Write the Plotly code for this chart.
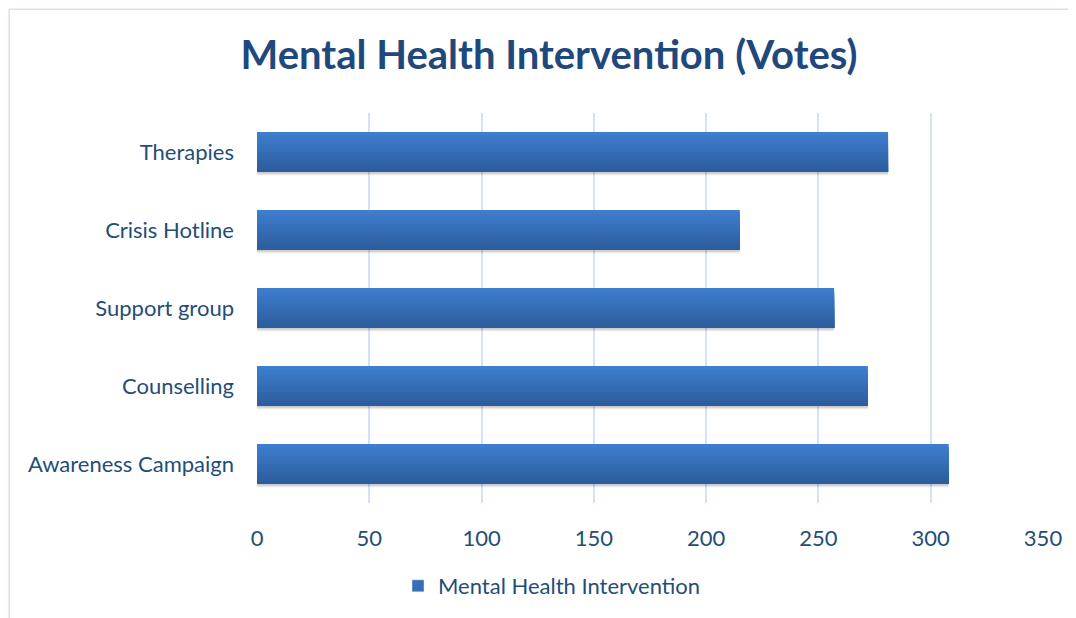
import plotly.graph_objects as go

categories = ["Awareness Campaign", "Counselling", "Support group", "Crisis Hotline", "Therapies"]
votes = [308, 272, 257, 215, 281]
x_ticks = [0, 50, 100, 150, 200, 250, 300, 350]
series_name = "Mental Health Intervention"
title_text = "Mental Health Intervention (Votes)"

# page has an 8px body margin; lay the figure out in page pixels minus 8
PAD = 8
W, H = 1076 - PAD, 618 - PAD
def px(x): return x - PAD
L, R = px(257), 1076 - 1043
T, B = px(113), 618 - 503
PW, PH = W - L - R, H - T - B
FONT = "Lato, Calibri, Carlito, sans-serif"
TXT = "#1F4E79"

fig = go.Figure()

half = 0.256
# soft shadow
for k, a in enumerate([0.05, 0.07, 0.09]):
    fig.add_trace(go.Bar(
        y=categories, x=votes, orientation="h", width=2 * half, offset=-half - 0.045 + k * 0.012,
        marker=dict(color="rgba(0,0,0,%.2f)" % a, line=dict(width=0)),
        showlegend=False, hoverinfo="skip"))

# gradient: stacked overlapping layers (top lighter -> bottom darker)
n = 14
top = (61, 126, 206)
bot = (45, 93, 157)
for i in range(n):
    t = i / (n - 1)
    c = tuple(round(top[k] + (bot[k] - top[k]) * t) for k in range(3))
    w = 2 * half / n
    span = 2 * half - i * w
    fig.add_trace(go.Bar(
        y=categories, x=votes, orientation="h", width=span, offset=-half,
        marker=dict(color="rgb(%d,%d,%d)" % c, line=dict(width=0)),
        showlegend=False, name=series_name))

# legend entry
fig.add_trace(go.Bar(
    y=[None], x=[None], orientation="h", name=series_name,
    marker=dict(color="rgb(54,110,182)"), showlegend=True))

bx0 = (1.2 - L) / PW
by1 = (H - B - 1.2) / PH
fig.update_layout(
    width=W, height=H,
    margin=dict(l=L, r=R, t=T, b=B, autoexpand=False),
    paper_bgcolor="white", plot_bgcolor="white",
    barmode="overlay",
    title=dict(text="<b>" + title_text + "</b>", x=px(549) / W, xref="container",
               xanchor="center", y=1 - px(55) / H, yanchor="middle",
               font=dict(family=FONT, size=40, color="#1F497D")),
    xaxis=dict(range=[0, 350], tickvals=x_ticks, showgrid=True, gridcolor="#D6E2F2", gridwidth=2,
               zeroline=False, showline=False, ticks="", ticklabelstandoff=20,
               tickfont=dict(family=FONT, size=22, color=TXT)),
    yaxis=dict(categoryorder="array", categoryarray=categories, showgrid=False, zeroline=False,
               showline=False, ticks="", ticklabelstandoff=22,
               tickfont=dict(family=FONT, size=22, color=TXT)),
    legend=dict(orientation="h", x=px(552) / W, xref="container", xanchor="center",
                y=1 - px(586) / H, yref="container", yanchor="middle",
                font=dict(family=FONT, size=22, color=TXT), itemwidth=30),
    shapes=[
        dict(type="line", xref="paper", yref="paper", x0=bx0, x1=1.2, y0=by1, y1=by1,
             line=dict(color="#D6E2F2", width=1.5), layer="below"),
        dict(type="line", xref="paper", yref="paper", x0=bx0, x1=bx0, y0=-1, y1=by1,
             line=dict(color="#D6E2F2", width=1.5), layer="below"),
    ],
)

fig.write_html("out.html")
